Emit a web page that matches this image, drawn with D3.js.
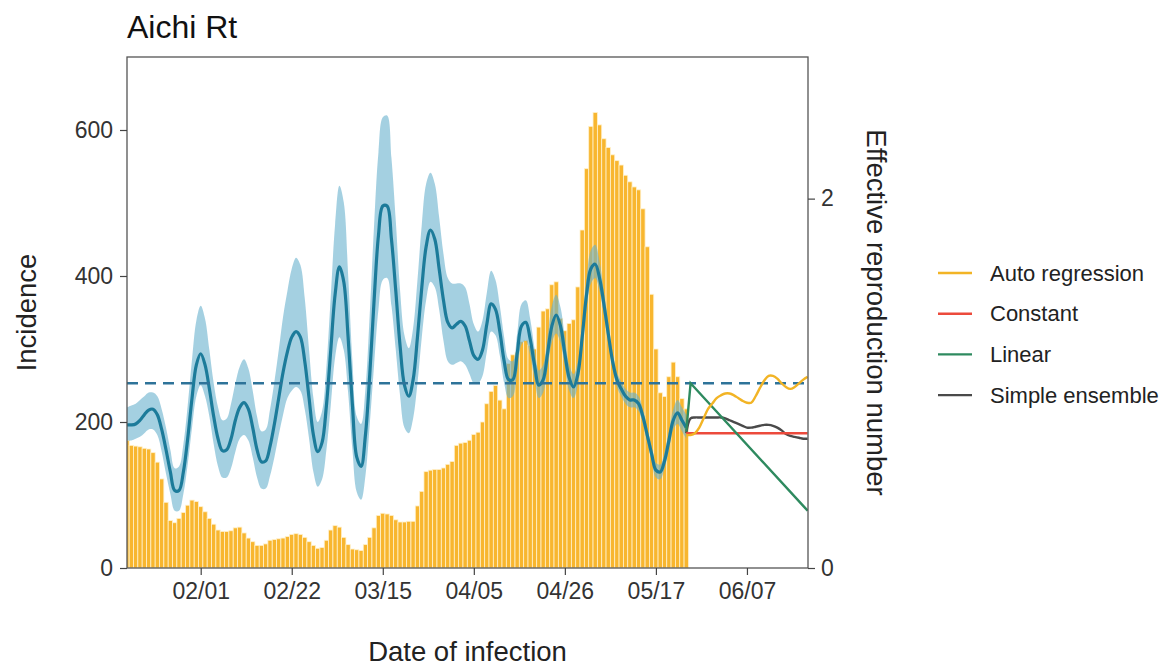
<!DOCTYPE html>
<html lang="en">
<head>
<meta charset="UTF-8">
<title>Aichi Rt</title>
<script src="https://d3js.org/d3.v7.min.js"></script>
<style>
  body { margin: 0; background: #fff; }
  svg text { font-family: "Liberation Sans", Arial, sans-serif; }
</style>
</head>
<body>
<script>
// first observed day, one value per day after it
var startDay = "2021-01-15";

var incidence = [
  175,168,167,166,164,163,158,145,122,90,
  65,62,68,76,86,93,91,84,77,68,
  60,52,50,50,51,55,56,48,41,36,
  31,31,33,38,39,40,41,43,46,47,
  46,42,36,31,27,28,38,52,58,56,
  42,32,26,25,24,32,42,55,72,75,
  74,72,66,63,63,64,64,85,105,132,
  134,135,135,137,142,146,168,171,172,175,
  183,186,200,225,242,250,230,218,280,292,
  295,310,312,305,300,330,352,355,388,392,
  342,325,335,340,385,463,547,605,624,607,
  588,576,566,558,552,538,529,522,518,492,
  440,375,300,240,235,262,282,262,232,218
];

var rtMid = [
  0.775,0.775,0.78,0.80,0.83,0.855,0.86,0.83,0.75,0.64,
  0.52,0.42,0.42,0.52,0.70,0.92,1.10,1.16,1.10,0.97,
  0.82,0.70,0.635,0.64,0.70,0.80,0.87,0.895,0.86,0.76,
  0.64,0.575,0.58,0.66,0.78,0.92,1.06,1.17,1.25,1.28,
  1.25,1.12,0.92,0.72,0.63,0.68,0.88,1.18,1.48,1.63,
  1.55,1.25,0.88,0.60,0.55,0.72,1.05,1.45,1.80,1.96,
  1.96,1.78,1.50,1.20,0.99,0.93,1.02,1.25,1.52,1.74,
  1.83,1.78,1.62,1.45,1.33,1.30,1.32,1.335,1.31,1.23,
  1.15,1.13,1.18,1.32,1.43,1.40,1.28,1.12,1.02,1.02,
  1.16,1.31,1.33,1.24,1.10,0.99,1.02,1.16,1.31,1.37,
  1.31,1.16,1.03,0.98,1.05,1.25,1.48,1.62,1.645,1.57,
  1.43,1.27,1.12,1.02,0.97,0.93,0.91,0.91,0.89,0.82,
  0.72,0.62,0.53,0.52,0.58,0.69,0.80,0.84,0.80,0.76
];

var rtLow = [
  0.69,0.69,0.70,0.71,0.73,0.75,0.75,0.72,0.63,0.51,
  0.40,0.31,0.31,0.40,0.56,0.76,0.93,0.99,0.93,0.82,
  0.67,0.55,0.49,0.49,0.54,0.63,0.70,0.72,0.69,0.60,
  0.49,0.43,0.43,0.50,0.60,0.72,0.83,0.92,0.96,0.98,
  0.96,0.86,0.70,0.52,0.44,0.48,0.64,0.88,1.14,1.25,
  1.18,0.95,0.64,0.41,0.37,0.50,0.78,1.10,1.40,1.56,
  1.57,1.42,1.18,0.93,0.76,0.73,0.81,1.00,1.25,1.45,
  1.55,1.52,1.40,1.23,1.12,1.10,1.11,1.12,1.10,1.05,
  1.00,1.00,1.04,1.17,1.28,1.26,1.15,1.00,0.92,0.93,
  1.06,1.21,1.23,1.15,1.02,0.92,0.95,1.08,1.22,1.27,
  1.22,1.09,0.96,0.92,0.99,1.18,1.40,1.54,1.57,1.50,
  1.37,1.22,1.08,0.98,0.93,0.89,0.87,0.87,0.85,0.78,
  0.68,0.58,0.49,0.48,0.54,0.64,0.75,0.78,0.74,0.70
];

var rtHigh = [
  0.87,0.88,0.89,0.91,0.93,0.95,0.95,0.93,0.86,0.76,
  0.64,0.54,0.55,0.67,0.88,1.13,1.34,1.42,1.35,1.18,
  1.00,0.87,0.80,0.81,0.89,1.00,1.09,1.13,1.08,0.96,
  0.82,0.74,0.75,0.86,1.01,1.18,1.36,1.50,1.62,1.68,
  1.64,1.46,1.18,0.92,0.79,0.85,1.09,1.47,1.86,2.07,
  1.98,1.59,1.12,0.82,0.78,0.97,1.38,1.86,2.25,2.44,
  2.45,2.22,1.88,1.50,1.26,1.19,1.30,1.56,1.86,2.08,
  2.14,2.08,1.90,1.70,1.57,1.54,1.54,1.54,1.52,1.43,
  1.32,1.28,1.34,1.49,1.61,1.56,1.42,1.25,1.13,1.12,
  1.27,1.43,1.45,1.35,1.19,1.07,1.10,1.25,1.42,1.48,
  1.41,1.25,1.10,1.05,1.12,1.33,1.57,1.72,1.75,1.66,
  1.50,1.33,1.17,1.06,1.01,0.97,0.95,0.95,0.93,0.86,
  0.76,0.66,0.57,0.56,0.63,0.74,0.86,0.91,0.87,0.83
];

// projections, day offsets counted from startDay
var autoDays = d3.range(129, 158);
var autoRegression = [0.72,0.72,0.73,0.76,0.81,0.86,0.89,0.92,0.935,0.945,0.945,0.935,0.92,0.905,0.895,0.895,0.93,0.975,1.015,1.04,1.04,1.025,1.0,0.98,0.97,0.98,1.0,1.02,1.035];
var constantDays = [129, 157];
var constant = [0.73, 0.73];
var linearDays = [129, 130, 157];
var linear = [0.74, 1.0, 0.31];
var ensembleDays = d3.range(129, 158);
var ensemble = [0.73,0.81,0.815,0.815,0.815,0.815,0.815,0.815,0.815,0.81,0.80,0.79,0.78,0.77,0.76,0.76,0.765,0.77,0.775,0.775,0.77,0.76,0.745,0.725,0.715,0.71,0.705,0.70,0.70];

var xTicks = ["2021-02-01","2021-02-22","2021-03-15","2021-04-05","2021-04-26","2021-05-17","2021-06-07"];
var incTicks = [0, 200, 400, 600];
var rtTicks = [0, 2];

var legendNames = ["Auto regression", "Constant", "Linear", "Simple ensemble"];
var legendColors = ["#F2B425", "#EC4A3C", "#2E8A5F", "#4A4A4A"];

var width = 1165, height = 666;
var pLeft = 127, pRight = 808, pTop = 57, pBottom = 568;

var parse = d3.utcParse("%Y-%m-%d");
var day0 = parse(startDay);
function dayDate(i) { return d3.utcDay.offset(day0, i); }

var svg = d3.select("body").append("svg").attr("width", width).attr("height", height);

var xScale = d3.scaleUtc()
  .domain([day0, d3.utcHour.offset(parse("2021-06-21"), 2)])
  .range([pLeft, pRight]);
var yInc = d3.scaleLinear().domain([0, 700]).range([pBottom, pTop]);
var yRt = d3.scaleLinear().domain([0, 700 / 253]).range([pBottom, pTop]);

var dayW = xScale(dayDate(1)) - xScale(dayDate(0));

svg.append("clipPath").attr("id", "panel")
  .append("rect").attr("x", pLeft).attr("y", pTop).attr("width", pRight - pLeft).attr("height", pBottom - pTop);

var plot = svg.append("g").attr("clip-path", "url(#panel)");

// incidence bars
plot.append("g")
  .selectAll("rect")
  .data(incidence)
  .enter()
  .append("rect")
  .attr("x", function(d, i) { return xScale(dayDate(i)) - dayW / 2; })
  .attr("y", function(d) { return yInc(d); })
  .attr("width", dayW)
  .attr("height", function(d) { return pBottom - yInc(d); })
  .attr("fill", "#F8B62F")
  .attr("stroke", "#FFF1CC")
  .attr("stroke-width", 0.8);

// credible interval
var band = d3.area()
  .x(function(d, i) { return xScale(dayDate(i)); })
  .y0(function(d, i) { return yRt(rtLow[i]); })
  .y1(function(d, i) { return yRt(rtHigh[i]); })
  .curve(d3.curveCatmullRom.alpha(0.5));

plot.append("path")
  .datum(rtMid)
  .attr("d", band)
  .attr("fill", "#68B1CD")
  .attr("fill-opacity", 0.6);

var rtLine = d3.line()
  .x(function(d, i) { return xScale(dayDate(i)); })
  .y(function(d) { return yRt(d); })
  .curve(d3.curveCatmullRom.alpha(0.5));

plot.append("path")
  .datum(rtMid)
  .attr("d", rtLine)
  .attr("fill", "none")
  .attr("stroke", "#1C7B9A")
  .attr("stroke-width", 3.2);

// Rt = 1
plot.append("line")
  .attr("x1", pLeft).attr("x2", pRight)
  .attr("y1", yRt(1)).attr("y2", yRt(1))
  .attr("stroke", "#2E7399")
  .attr("stroke-width", 2.6)
  .attr("stroke-dasharray", "11,7");

// projections
function projLine(days, vals, color, curve) {
  var pts = vals.map(function(v, k) { return [xScale(dayDate(days[k])), yRt(v)]; });
  plot.append("path")
    .datum(pts)
    .attr("d", d3.line().curve(curve))
    .attr("fill", "none")
    .attr("stroke", color)
    .attr("stroke-width", 2.4);
}
projLine(ensembleDays, ensemble, legendColors[3], d3.curveCatmullRom.alpha(0.5));
projLine(constantDays, constant, legendColors[1], d3.curveLinear);
projLine(linearDays, linear, legendColors[2], d3.curveLinear);
projLine(autoDays, autoRegression, legendColors[0], d3.curveCatmullRom.alpha(0.5));

// panel border
svg.append("rect")
  .attr("x", pLeft).attr("y", pTop)
  .attr("width", pRight - pLeft).attr("height", pBottom - pTop)
  .attr("fill", "none")
  .attr("stroke", "#555")
  .attr("stroke-width", 1.3);

// axes
var axisX = d3.axisBottom(xScale)
  .tickValues(xTicks.map(parse))
  .tickFormat(d3.utcFormat("%m/%d"))
  .tickSize(7).tickPadding(8);
var axisL = d3.axisLeft(yInc).tickValues(incTicks).tickSize(7).tickPadding(7);
var axisR = d3.axisRight(yRt).tickValues(rtTicks).tickFormat(d3.format("d")).tickSize(7).tickPadding(6);

function styleAxis(g) {
  g.select(".domain").remove();
  g.selectAll(".tick line").attr("stroke", "#444").attr("stroke-width", 1.2);
  g.selectAll(".tick text").attr("fill", "#333").style("font-size", "23px").style("font-family", "'Liberation Sans', Arial, sans-serif");
}

svg.append("g").attr("transform", "translate(0," + pBottom + ")").call(axisX).call(styleAxis);
svg.append("g").attr("transform", "translate(" + pLeft + ",0)").call(axisL).call(styleAxis);
svg.append("g").attr("transform", "translate(" + pRight + ",0)").call(axisR).call(styleAxis);

// titles
svg.append("text")
  .attr("x", pLeft).attr("y", 38)
  .style("font-size", "32px").attr("fill", "#111")
  .text("Aichi Rt");

svg.append("text")
  .attr("x", (pLeft + pRight) / 2).attr("y", 661)
  .attr("text-anchor", "middle")
  .style("font-size", "27.5px").attr("fill", "#222")
  .text("Date of infection");

svg.append("text")
  .attr("transform", "translate(36," + (pTop + pBottom) / 2 + ") rotate(-90)")
  .attr("text-anchor", "middle")
  .style("font-size", "27.5px").attr("fill", "#222")
  .text("Incidence");

svg.append("text")
  .attr("transform", "translate(867," + (pTop + pBottom) / 2 + ") rotate(90)")
  .attr("text-anchor", "middle")
  .style("font-size", "27.5px").attr("fill", "#222")
  .text("Effective reproduction number");

// legend
var legend = svg.append("g")
  .selectAll("g")
  .data(legendNames)
  .enter()
  .append("g")
  .attr("transform", function(d, i) { return "translate(938," + (273 + i * 40.7) + ")"; });

legend.append("line")
  .attr("x1", 0).attr("x2", 34)
  .attr("stroke", function(d, i) { return legendColors[i]; })
  .attr("stroke-width", 2.4);

legend.append("text")
  .attr("x", 52).attr("dy", "0.35em")
  .style("font-size", "22px").attr("fill", "#222")
  .text(function(d) { return d; });
</script>
</body>
</html>
